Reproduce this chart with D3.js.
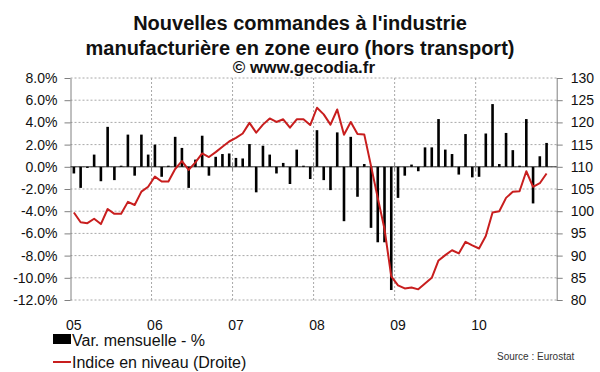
<!DOCTYPE html>
<html>
<head>
<meta charset="utf-8">
<script src="https://cdn.jsdelivr.net/npm/d3@7"></script>
<style>
  body { margin: 0; background: #fff; }
  svg { display: block; font-family: Arial, "Liberation Sans", sans-serif; }
</style>
</head>
<body>
<div id="chart"></div>
<script>
// Data (monthly, Jan 2005 -> Dec 2010)
const years = ['05', '06', '07', '08', '09', '10'];
const monthNums = ['01', '02', '03', '04', '05', '06', '07', '08', '09', '10', '11', '12'];
const months = years.flatMap(y => monthNums.map(m => `${y}-${m}`));

// Var. mensuelle - % (bars, left axis)
const variation = [
  -0.6, -1.9, -0.1, 1.1, -1.3, 3.6, -1.2, 0.1, 2.9, -0.8, 2.9, 1.1,
  2.0, -0.9, 0.1, 2.7, 1.7, -1.9, 0.65, 2.8, -0.8, 0.9, 1.15, 1.2,
  0.8, 0.75, 2.05, -2.3, 1.9, 1.1, -0.6, 0.35, -1.55, 1.55, 0.1, -1.1,
  3.3, -1.2, -2.1, 3.1, -4.9, 2.7, -2.7, 0.25, -5.5, -6.8, -6.8, -11.1,
  -2.8, -0.8, 0.2, -0.4, 1.75, 1.75, 4.3, 1.55, 1.15, -0.7, 2.95, -0.95,
  -0.9, 3.0, 5.65, 0.25, 3.05, 1.5, 0.1, 4.3, -3.3, 0.95, 2.15, null
];

// Indice en niveau (line, right axis)
const indice = [
  99.7, 97.5, 97.3, 98.3, 97.1, 100.5, 99.4, 99.4, 102.1, 101.4, 104.4, 105.5,
  107.8, 106.7, 106.7, 109.5, 111.3, 109.3, 111.0, 113.0, 112.2, 113.3, 114.5, 115.7,
  116.5, 117.5, 119.9, 117.7, 119.5, 120.9, 120.1, 120.7, 118.8, 120.7, 120.7, 119.4,
  123.3, 121.8, 119.5, 122.9, 117.2, 120.1, 117.4, 117.3, 110.2, 103.0, 96.0, 85.3,
  83.3, 82.6, 82.8, 82.4, 83.7, 85.0, 88.9, 90.1, 91.2, 90.5, 93.1, 92.3,
  91.6, 94.4, 99.7, 100.0, 103.0, 104.4, 104.5, 109.0, 105.5, 106.3, 108.5, null
];

const leftTicks = [-12, -10, -8, -6, -4, -2, 0, 2, 4, 6, 8];
const rightTicks = [80, 85, 90, 95, 100, 105, 110, 115, 120, 125, 130];

const W = 600, H = 372;
const plot = { left: 70.5, right: 556.7, top: 78, bottom: 300 };
const font = 'Arial, "Liberation Sans", sans-serif';

const svg = d3.select('#chart')
  .append('svg')
  .attr('width', W)
  .attr('height', H);

// Scales
const x = d3.scaleBand()
  .domain(months)
  .range([plot.left, plot.right])
  .padding(0);
const cx = m => x(m) + x.bandwidth() / 2;

const yL = d3.scaleLinear().domain([-12, 8]).range([plot.bottom, plot.top]);
const yR = d3.scaleLinear().domain([80, 130]).range([plot.bottom, plot.top]);

// Title
const title = svg.append('g')
  .attr('fill', '#111')
  .attr('font-weight', 'bold')
  .attr('text-anchor', 'middle');
title.append('text').attr('x', 300).attr('y', 30).attr('font-size', 20)
  .text("Nouvelles commandes à l'industrie");
title.append('text').attr('x', 300).attr('y', 55).attr('font-size', 20)
  .text('manufacturière en zone euro (hors transport)');
title.append('text').attr('x', 304).attr('y', 73).attr('font-size', 17)
  .text('© www.gecodia.fr');

// Horizontal grid lines
svg.append('g')
  .selectAll('line')
  .data(leftTicks)
  .join('line')
  .attr('x1', plot.left)
  .attr('x2', plot.right)
  .attr('y1', d => yL(d))
  .attr('y2', d => yL(d))
  .attr('stroke', '#a8a8a8')
  .attr('stroke-width', 1)
  .attr('stroke-dasharray', '2,2');

// Vertical grid lines at each year start (except the first, which is the axis)
svg.append('g')
  .selectAll('line')
  .data(years.slice(1))
  .join('line')
  .attr('x1', d => x(`${d}-01`))
  .attr('x2', d => x(`${d}-01`))
  .attr('y1', plot.top)
  .attr('y2', plot.bottom)
  .attr('stroke', '#a8a8a8')
  .attr('stroke-width', 1)
  .attr('stroke-dasharray', '2,2');

// Left axis
const axisL = svg.append('g')
  .attr('transform', `translate(${plot.left},0)`)
  .call(d3.axisLeft(yL).tickValues(leftTicks).tickSize(6).tickSizeOuter(0).tickPadding(7)
    .tickFormat(d => d.toFixed(1) + '%'));

// Right axis
const axisR = svg.append('g')
  .attr('transform', `translate(${plot.right},0)`)
  .call(d3.axisRight(yR).tickValues(rightTicks).tickSize(6).tickSizeOuter(0).tickPadding(8));

[axisL, axisR].forEach(a => {
  a.select('.domain').attr('stroke', '#808080');
  a.selectAll('.tick line').attr('stroke', '#808080');
  a.selectAll('.tick text')
    .attr('fill', '#111')
    .style('font-size', '14px')
    .style('font-family', font);
});

// Zero line with small year ticks
svg.append('line')
  .attr('x1', plot.left)
  .attr('x2', plot.right)
  .attr('y1', yL(0))
  .attr('y2', yL(0))
  .attr('stroke', '#333')
  .attr('stroke-width', 1);

svg.append('g')
  .selectAll('line')
  .data(years.slice(1))
  .join('line')
  .attr('x1', d => x(`${d}-01`))
  .attr('x2', d => x(`${d}-01`))
  .attr('y1', yL(0) - 4)
  .attr('y2', yL(0) + 4)
  .attr('stroke', '#808080');

// Bars
const barW = 2.6;
svg.append('g')
  .selectAll('rect')
  .data(months.map((m, i) => ({ m, v: variation[i] })).filter(d => d.v !== null))
  .join('rect')
  .attr('x', d => cx(d.m) - barW / 2)
  .attr('width', barW)
  .attr('y', d => yL(Math.max(0, d.v)))
  .attr('height', d => Math.abs(yL(d.v) - yL(0)))
  .attr('fill', '#000');

// Index line
const line = d3.line()
  .defined(d => d.v !== null)
  .x(d => cx(d.m))
  .y(d => yR(d.v));

svg.append('path')
  .datum(months.map((m, i) => ({ m, v: indice[i] })))
  .attr('fill', 'none')
  .attr('stroke', '#c81e1e')
  .attr('stroke-width', 2)
  .attr('stroke-linejoin', 'round')
  .attr('d', line);

// Year labels
svg.append('g')
  .selectAll('text')
  .data(years)
  .join('text')
  .attr('x', d => cx(`${d}-01`))
  .attr('y', 330)
  .attr('text-anchor', 'middle')
  .attr('font-size', 14)
  .attr('fill', '#111')
  .text(d => d);

// Legend
const legend = svg.append('g').attr('font-size', 16).attr('fill', '#111');
legend.append('rect')
  .attr('x', 53).attr('y', 334)
  .attr('width', 18).attr('height', 10)
  .attr('fill', '#000');
legend.append('text').attr('x', 72).attr('y', 346).text('Var. mensuelle - %');
legend.append('line')
  .attr('x1', 53).attr('x2', 71)
  .attr('y1', 362).attr('y2', 362)
  .attr('stroke', '#c81e1e').attr('stroke-width', 2);
legend.append('text').attr('x', 72).attr('y', 368).text('Indice en niveau (Droite)');

// Source
svg.append('text')
  .attr('x', 497)
  .attr('y', 360)
  .attr('font-size', 10)
  .attr('fill', '#333')
  .text('Source : Eurostat');
</script>
</body>
</html>
